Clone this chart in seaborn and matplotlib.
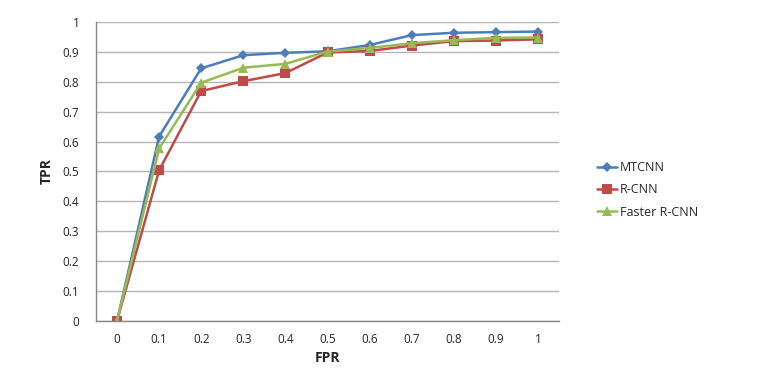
import numpy as np
import pandas as pd
import seaborn as sns
import matplotlib.pyplot as plt
from matplotlib.ticker import FixedLocator

# values
fpr_labels = ['0', '0.1', '0.2', '0.3', '0.4', '0.5', '0.6', '0.7', '0.8', '0.9', '1']
mtcnn = [0.0, 0.617, 0.845, 0.889, 0.897, 0.902, 0.923, 0.956, 0.964, 0.966, 0.968]
rcnn = [0.0, 0.504, 0.769, 0.802, 0.829, 0.898, 0.903, 0.921, 0.936, 0.938, 0.942]
faster_rcnn = [0.0, 0.577, 0.797, 0.847, 0.860, 0.901, 0.913, 0.929, 0.939, 0.947, 0.948]
series_names = ['MTCNN', 'R-CNN', 'Faster R-CNN']
y_ticks = [0, 0.1, 0.2, 0.3, 0.4, 0.5, 0.6, 0.7, 0.8, 0.9, 1]
y_tick_labels = ['0', '0.1', '0.2', '0.3', '0.4', '0.5', '0.6', '0.7', '0.8', '0.9', '1']

rows = []
for name, vals in zip(series_names, [mtcnn, rcnn, faster_rcnn]):
    for i, v in enumerate(vals):
        rows.append({'pos': i, 'TPR': v, 'Model': name})
df = pd.DataFrame(rows)

sns.set_style('white')
plt.rcParams['font.family'] = ['Open Sans', 'DejaVu Sans']

palette = {'MTCNN': '#4A7EBB', 'R-CNN': '#BE4B48', 'Faster R-CNN': '#98B954'}
markers = {'MTCNN': 'D', 'R-CNN': 's', 'Faster R-CNN': '^'}
sizes = {'MTCNN': 5, 'R-CNN': 6.5, 'Faster R-CNN': 6.5}

fig = plt.figure(figsize=(7.58, 3.83), dpi=100)
ax = fig.add_axes([0.1266, 0.1619, 0.611, 0.7807])

for name in series_names:
    sub = df[df['Model'] == name]
    sns.lineplot(data=sub, x='pos', y='TPR', ax=ax, color=palette[name],
                 marker=markers[name], markersize=sizes[name], linewidth=1.8,
                 markeredgewidth=0, label=name)

ax.set_xlim(-0.5, len(fpr_labels) - 0.5)
ax.set_ylim(0, 1)
ax.set_xticks(range(len(fpr_labels)))
ax.set_xticklabels(fpr_labels, fontsize=8.5)
ax.xaxis.set_minor_locator(FixedLocator(np.arange(-0.5, len(fpr_labels), 1.0)))
ax.tick_params(axis='x', which='major', length=0, pad=9)
ax.tick_params(axis='x', which='minor', length=4, color='#868686', direction='out')
ax.set_yticks(y_ticks)
ax.set_yticklabels(y_tick_labels, fontsize=8.5)
ax.tick_params(axis='y', which='major', length=4, color='#868686', direction='out', pad=8)

ax.grid(axis='y', color='#b4b4b4', linewidth=1)
ax.grid(axis='x', visible=False)
for s in ['top', 'right']:
    ax.spines[s].set_visible(False)
for s in ['left', 'bottom']:
    ax.spines[s].set_color('#868686')
    ax.spines[s].set_linewidth(1)

ax.set_xlabel('FPR', fontsize=10, fontweight='bold', labelpad=3)
ax.set_ylabel('TPR', fontsize=10, fontweight='bold', labelpad=6)

ax.legend(loc='center left', bbox_to_anchor=(0.773, 0.504),
          bbox_transform=fig.transFigure, frameon=False,
          fontsize=9, handlelength=1.6, handletextpad=0.2, labelspacing=0.75)

fig.savefig('out.png', dpi=100)
